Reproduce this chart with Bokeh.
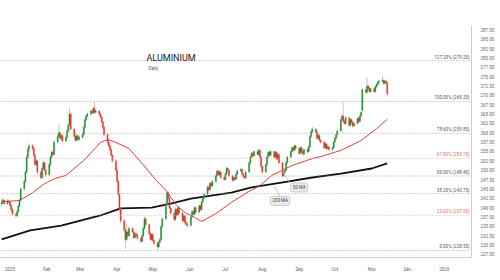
import numpy as np
import pandas as pd
from bokeh.plotting import figure
from bokeh.models import Range1d, FixedTicker, Label, Span, ColumnDataSource, NumeralTickFormatter
from bokeh.embed import file_html
from bokeh.resources import INLINE

# ---------------- data ----------------
start_date = "2024-12-25"   # first trading day shown (business days follow)

opens = [
    241.0, 241.5,
    242.0, 241.0, 241.8, 241.6, 240.6,
    239.5, 238.3, 237.8, 239.0, 240.5,
    242.0, 245.0, 247.0, 249.5, 253.5,
    255.5, 256.5, 255.8, 254.0, 251.5,
    252.5, 249.5, 248.0, 250.5, 252.0,
    250.0, 248.8, 251.5, 253.5, 254.8,
    254.2, 257.5, 259.0, 260.0, 258.5,
    259.3, 257.8, 258.8, 260.5, 262.0,
    265.0, 261.0, 259.0, 258.0, 259.2,
    258.2, 258.8, 259.5, 261.5, 263.5,
    264.5, 265.0, 265.8, 265.3, 266.5,
    265.5, 265.8, 265.0, 264.2, 263.0,
    261.5, 259.5, 257.5, 256.5, 255.5,
    254.0, 252.5, 250.0, 247.0, 243.5,
    239.5, 236.5, 234.0, 231.5, 233.5,
    232.5, 234.5, 233.5, 232.0, 233.0,
    232.8, 231.8, 231.0, 232.5, 234.5,
    237.0, 235.5, 233.0, 231.5, 232.8,
    231.2, 230.5, 229.5, 230.8, 231.5,
    235.0, 237.0, 241.0, 244.0, 242.5,
    240.0, 238.5, 236.8, 239.5, 238.0,
    240.0, 238.5, 236.5, 237.8, 236.0,
    235.5, 235.2, 237.5, 239.0, 238.2,
    240.0, 238.8, 240.5, 239.5, 241.5,
    242.5, 243.5, 245.5, 244.8, 246.5,
    245.8, 247.0, 248.5, 249.8, 248.8,
    249.5, 248.0, 247.5, 249.0, 250.5,
    250.0, 248.5, 247.3, 248.0, 247.6,
    249.0, 249.8, 250.2, 249.0, 248.3,
    248.0, 249.5, 252.0, 253.5, 254.5,
    253.8, 255.0, 254.2, 255.3, 253.5,
    251.0, 249.5, 251.5, 253.5, 254.8,
    254.0, 255.0, 253.5, 254.8, 253.0,
    254.2, 252.0, 248.5, 249.5, 250.0,
    252.0, 253.5, 255.0, 256.0, 255.3,
    256.5, 255.8, 254.5, 256.0, 255.0,
    254.3, 255.5, 255.0, 256.2, 259.0,
    260.3, 261.0, 260.2, 258.5, 259.3,
    258.0, 257.5, 256.0, 257.0, 255.8,
    256.2, 255.5, 256.0, 257.5, 258.5,
    259.5, 260.5, 263.5, 264.5, 263.0,
    262.5, 264.0, 262.0, 263.5, 262.8,
    261.8, 262.5, 263.8, 263.0, 264.5,
    266.0, 271.5, 270.8, 272.5, 271.8,
    271.0, 271.8, 271.0, 272.3, 272.8,
    273.5, 273.8, 274.0, 273.2, 273.8,
    273.3,
]
highs = [
    242.3, 242.6,
    242.5, 242.3, 242.2, 241.9, 240.9,
    239.8, 238.7, 239.4, 240.9, 242.4,
    245.4, 247.4, 249.9, 254.0, 256.2,
    257.3, 257.0, 256.1, 254.4, 253.0,
    252.8, 249.9, 251.0, 252.6, 252.3,
    250.3, 251.9, 253.9, 255.3, 255.2,
    258.0, 259.6, 262.2, 260.4, 259.8,
    259.6, 259.3, 261.0, 262.5, 266.8,
    265.3, 261.4, 259.5, 259.7, 259.5,
    259.3, 260.0, 262.0, 264.0, 265.0,
    265.6, 266.3, 266.2, 267.0, 268.35,
    266.3, 266.1, 265.4, 264.5, 263.3,
    261.8, 259.9, 258.0, 256.9, 255.9,
    254.3, 252.9, 250.4, 247.4, 243.9,
    240.0, 237.0, 234.5, 235.5, 234.0,
    235.0, 234.9, 233.9, 233.4, 233.6,
    233.1, 232.2, 232.9, 234.9, 237.6,
    237.3, 235.8, 233.4, 233.2, 233.1,
    231.5, 230.9, 231.2, 232.0, 235.3,
    237.4, 241.4, 244.6, 244.4, 242.9,
    240.3, 238.8, 240.0, 239.8, 240.4,
    240.3, 238.8, 238.2, 238.1, 236.5,
    236.0, 237.9, 239.4, 239.3, 240.4,
    240.3, 240.9, 240.8, 241.9, 242.9,
    243.9, 245.9, 245.8, 246.9, 246.8,
    247.4, 248.9, 250.2, 250.1, 249.9,
    249.8, 248.4, 249.4, 250.9, 250.8,
    250.3, 248.8, 248.4, 248.3, 249.4,
    250.2, 250.6, 250.5, 249.3, 248.6,
    249.9, 252.4, 253.9, 254.9, 254.8,
    255.4, 255.3, 255.7, 255.6, 253.8,
    251.3, 251.9, 253.9, 255.2, 255.1,
    255.4, 255.3, 255.2, 255.1, 254.6,
    254.5, 252.3, 249.9, 250.4, 252.4,
    253.9, 255.4, 256.4, 256.3, 256.9,
    256.8, 256.1, 256.4, 256.3, 255.3,
    255.9, 255.8, 256.6, 259.4, 260.7,
    261.6, 261.3, 260.5, 259.7, 259.6,
    258.3, 257.8, 257.4, 257.3, 256.6,
    256.5, 256.4, 257.9, 258.9, 259.9,
    260.9, 263.9, 264.9, 268.1, 263.4,
    264.4, 264.3, 263.9, 263.8, 263.1,
    262.9, 264.2, 264.1, 264.9, 265.9,
    271.9, 271.8, 274.8, 272.8, 272.1,
    272.2, 272.1, 272.7, 273.2, 273.9,
    274.2, 275.3, 274.3, 274.2, 274.1,
    273.6,
]
lows = [
    240.6, 241.0,
    240.6, 240.7, 241.3, 240.2, 238.9,
    237.8, 237.2, 237.5, 238.7, 240.2,
    241.8, 244.6, 246.6, 249.2, 253.0,
    254.9, 255.2, 253.6, 251.0, 251.1,
    249.0, 247.5, 247.8, 250.1, 249.6,
    248.3, 248.5, 251.2, 253.2, 253.7,
    254.0, 257.2, 258.7, 258.0, 258.1,
    257.4, 257.5, 258.5, 260.2, 261.8,
    260.6, 258.6, 257.5, 257.7, 257.8,
    257.9, 258.4, 259.2, 261.2, 263.1,
    264.0, 264.6, 264.8, 265.0, 265.1,
    265.1, 264.6, 263.8, 262.6, 261.0,
    259.0, 257.0, 256.0, 255.0, 253.6,
    252.0, 249.6, 246.5, 243.0, 239.0,
    235.8, 233.5, 228.9, 231.0, 231.8,
    232.2, 233.0, 231.6, 231.7, 232.3,
    231.4, 230.6, 230.8, 232.2, 234.2,
    235.0, 232.6, 231.0, 231.2, 230.8,
    230.0, 228.55, 229.2, 230.4, 231.2,
    234.6, 236.7, 240.7, 242.0, 239.6,
    238.0, 236.2, 236.5, 237.6, 237.7,
    238.1, 236.0, 236.2, 235.6, 235.0,
    234.6, 235.0, 237.2, 237.8, 238.0,
    238.4, 238.5, 239.1, 239.2, 241.2,
    242.2, 243.2, 244.4, 244.5, 245.4,
    245.5, 246.7, 248.2, 248.4, 248.5,
    247.6, 247.1, 247.2, 248.7, 249.6,
    248.1, 246.9, 247.0, 247.2, 247.3,
    248.7, 249.5, 248.6, 247.9, 247.6,
    247.7, 249.2, 251.7, 253.2, 253.4,
    253.5, 253.8, 253.9, 253.1, 250.6,
    249.1, 249.2, 251.2, 253.2, 253.6,
    253.7, 253.1, 253.2, 252.6, 252.7,
    251.6, 247.9, 248.2, 249.0, 249.7,
    251.7, 253.2, 254.7, 254.9, 255.0,
    255.4, 254.1, 254.2, 254.6, 253.9,
    254.0, 254.6, 254.7, 255.9, 258.7,
    260.0, 259.8, 258.1, 258.2, 257.6,
    257.1, 255.6, 255.7, 255.4, 255.5,
    255.1, 255.2, 255.7, 257.2, 258.2,
    259.2, 260.2, 263.2, 262.7, 262.1,
    262.2, 261.6, 261.7, 262.4, 261.4,
    261.5, 262.2, 262.6, 262.7, 264.2,
    265.7, 270.3, 270.5, 271.3, 270.6,
    270.7, 270.6, 270.7, 272.0, 272.5,
    273.2, 273.5, 272.8, 272.9, 272.9,
    269.8,
]
closes = [
    241.5, 242.0,
    241.0, 241.8, 241.6, 240.6, 239.5,
    238.3, 237.8, 239.0, 240.5, 242.0,
    245.0, 247.0, 249.5, 253.5, 255.5,
    256.5, 255.8, 254.0, 251.5, 252.5,
    249.5, 248.0, 250.5, 252.0, 250.0,
    248.8, 251.5, 253.5, 254.8, 254.2,
    257.5, 259.0, 260.0, 258.5, 259.3,
    257.8, 258.8, 260.5, 262.0, 265.0,
    261.0, 259.0, 258.0, 259.2, 258.2,
    258.8, 259.5, 261.5, 263.5, 264.5,
    265.0, 265.8, 265.3, 266.5, 265.5,
    265.8, 265.0, 264.2, 263.0, 261.5,
    259.5, 257.5, 256.5, 255.5, 254.0,
    252.5, 250.0, 247.0, 243.5, 239.5,
    236.5, 234.0, 231.5, 233.5, 232.5,
    234.5, 233.5, 232.0, 233.0, 232.8,
    231.8, 231.0, 232.5, 234.5, 237.0,
    235.5, 233.0, 231.5, 232.8, 231.2,
    230.5, 229.5, 230.8, 231.5, 235.0,
    237.0, 241.0, 244.0, 242.5, 240.0,
    238.5, 236.8, 239.5, 238.0, 240.0,
    238.5, 236.5, 237.8, 236.0, 235.5,
    235.2, 237.5, 239.0, 238.2, 240.0,
    238.8, 240.5, 239.5, 241.5, 242.5,
    243.5, 245.5, 244.8, 246.5, 245.8,
    247.0, 248.5, 249.8, 248.8, 249.5,
    248.0, 247.5, 249.0, 250.5, 250.0,
    248.5, 247.3, 248.0, 247.6, 249.0,
    249.8, 250.2, 249.0, 248.3, 248.0,
    249.5, 252.0, 253.5, 254.5, 253.8,
    255.0, 254.2, 255.3, 253.5, 251.0,
    249.5, 251.5, 253.5, 254.8, 254.0,
    255.0, 253.5, 254.8, 253.0, 254.2,
    252.0, 248.5, 249.5, 250.0, 252.0,
    253.5, 255.0, 256.0, 255.3, 256.5,
    255.8, 254.5, 256.0, 255.0, 254.3,
    255.5, 255.0, 256.2, 259.0, 260.3,
    261.0, 260.2, 258.5, 259.3, 258.0,
    257.5, 256.0, 257.0, 255.8, 256.2,
    255.5, 256.0, 257.5, 258.5, 259.5,
    260.5, 263.5, 264.5, 263.0, 262.5,
    264.0, 262.0, 263.5, 262.8, 261.8,
    262.5, 263.8, 263.0, 264.5, 265.5,
    271.5, 270.8, 272.5, 271.8, 271.0,
    271.8, 271.0, 272.3, 272.8, 273.5,
    273.8, 274.0, 273.2, 273.8, 273.3,
    270.4,
]

ma50_dates = ["2024-12-25", "2025-01-09", "2025-01-20", "2025-01-30", "2025-02-08",
              "2025-02-17", "2025-03-04", "2025-03-18", "2025-03-24", "2025-03-31",
              "2025-04-11", "2025-04-22", "2025-05-04", "2025-05-12", "2025-05-21",
              "2025-05-28", "2025-06-05", "2025-06-11", "2025-06-23", "2025-07-06",
              "2025-07-19", "2025-07-30", "2025-08-09", "2025-08-26", "2025-09-12",
              "2025-09-22", "2025-10-06", "2025-10-23", "2025-11-05", "2025-11-14"]
ma50_values = [241.6, 241.9, 244.0, 246.4, 247.8,
               248.6, 252.6, 257.4, 258.2, 257.4,
               255.8, 251.8, 247.25, 244.6, 240.6,
               238.7, 237.4, 236.3, 238.4, 241.4,
               244.0, 245.9, 248.6, 251.25, 253.1,
               253.9, 255.3, 257.9, 261.1, 263.6]

ma200_dates = ["2024-12-25", "2025-01-18", "2025-02-13", "2025-03-18", "2025-04-04",
               "2025-04-30", "2025-05-16", "2025-06-02", "2025-06-19", "2025-07-06",
               "2025-07-23", "2025-08-17", "2025-09-12", "2025-10-06", "2025-11-01",
               "2025-11-14"]
ma200_values = [231.5, 233.9, 235.2, 237.9, 239.8,
                240.0, 241.1, 242.4, 243.2, 244.0,
                245.4, 246.7, 248.05, 249.1, 250.45,
                251.8]

fib_pcts = [0.0, 23.6, 38.2, 50.0, 61.8, 78.6, 100.0, 127.2]
fib_prices = [228.55, 237.95, 243.75, 248.45, 253.15, 259.85, 268.35, 279.25]
fib_highlight = [False, True, False, False, True, False, False, False]

month_starts = ["2025-01-01", "2025-02-01", "2025-03-01", "2025-04-01", "2025-05-01",
                "2025-06-01", "2025-07-01", "2025-08-01", "2025-09-01", "2025-10-01",
                "2025-11-01", "2025-12-01", "2026-01-01"]
month_labels = ["2025", "Feb", "Mar", "Apr", "May", "Jun", "Jul", "Aug", "Sep", "Oct",
                "Nov", "Dec", "2026"]
price_ticks = [227.5, 230.0, 232.5, 235.0, 237.5, 240.0, 242.5, 245.0, 247.5, 250.0,
               252.5, 255.0, 257.5, 260.0, 262.5, 265.0, 267.5, 270.0, 272.5, 275.0,
               277.5, 280.0, 282.5, 285.0, 287.5]

title_text = "ALUMINIUM"
subtitle_text = "Daily"
ma_notes = ["50 MA", "200 MA"]
ma_note_dates = ["2025-09-01", "2025-08-16"]
ma_note_prices = [245.4, 241.8]
ma_leader_from_dates = ["2025-08-17", "2025-08-11"]
ma_leader_from_prices = [250.0, 245.9]
ma_leader_to_dates = ["2025-08-24", "2025-08-16"]
ma_leader_to_prices = [246.7, 242.8]

# ---------------- helpers ----------------
base = pd.Timestamp("2025-01-01")


def to_days(ds):
    return ((pd.to_datetime(ds) - base) / pd.Timedelta(days=1)).to_numpy(dtype=float)


dates = pd.bdate_range(start_date, periods=len(closes))
x = to_days(dates)
o = np.array(opens)
h = np.array(highs)
l = np.array(lows)
c = np.array(closes)
up = c >= o

GREEN = "#1f8a2e"
RED = "#e2322b"
body_col = [GREEN if u else RED for u in up]
wick_col = ["#9cc79f" if u else "#f0a3a0" for u in up]

src = ColumnDataSource(dict(x=x, o=o, h=h, l=l, c=c,
                            top=np.maximum(o, c), bot=np.minimum(o, c),
                            bc=body_col, wc=wick_col))

p = figure(width=500, height=280, output_backend="svg", toolbar_location=None,
           x_range=Range1d(-7.98, 387.8), y_range=Range1d(226.68, 288.65),
           y_axis_location="right",
           min_border_left=0, min_border_top=25, min_border_bottom=23, min_border_right=29)
p.outline_line_color = None
p.xgrid.visible = False
p.ygrid.visible = False
p.background_fill_color = "white"
p.border_fill_color = "white"

FONT = "Roboto"

# right price axis
p.yaxis.ticker = FixedTicker(ticks=price_ticks)
p.yaxis.formatter = NumeralTickFormatter(format="0.00")
p.yaxis.major_label_text_font_size = "4.5px"
p.yaxis.major_label_text_font = FONT
p.yaxis.major_label_text_color = "#666666"
p.yaxis.axis_line_color = "#cfcfcf"
p.yaxis.major_tick_line_color = None
p.yaxis.minor_tick_line_color = None
p.yaxis.major_label_standoff = 3

# bottom time axis
mdays = [int(v) for v in to_days(month_starts)]
p.xaxis.ticker = FixedTicker(ticks=mdays)
p.xaxis.major_label_overrides = {d: lab for d, lab in zip(mdays, month_labels)}
p.xaxis.major_label_text_font_size = "4.5px"
p.xaxis.major_label_text_font = FONT
p.xaxis.major_label_text_color = "#666666"
p.xaxis.axis_line_color = "#cfcfcf"
p.xaxis.major_tick_line_color = None
p.xaxis.minor_tick_line_color = None
p.xaxis.major_label_standoff = 3

# fibonacci levels
for pct, price, hl in zip(fib_pcts, fib_prices, fib_highlight):
    p.add_layout(Span(location=price, dimension="width",
                      line_color="#e8a5a5" if hl else "#9a9a9a",
                      line_dash="1 2", line_width=0.9))
    p.add_layout(Label(x=469, x_units="screen", y=price, y_units="data",
                       text=f"{pct:.2f}% ({price:.2f})", text_align="right",
                       text_baseline="bottom", y_offset=1,
                       text_font_size="4.5px", text_font=FONT,
                       text_color="#e06a66" if hl else "#555555"))

# moving averages
p.line(to_days(ma200_dates), ma200_values, line_color="#111111", line_width=1.8)
p.line(to_days(ma50_dates), ma50_values, line_color="#e0403a", line_width=1.0)

# candles
p.segment(x0="x", y0="h", x1="x", y1="l", line_color="wc", line_width=0.8, source=src)
p.vbar(x="x", width=0.9, top="top", bottom="bot", fill_color="bc", line_color="bc",
       line_width=0.4, source=src)

# MA annotations
p.segment(to_days(ma_leader_from_dates), ma_leader_from_prices,
          to_days(ma_leader_to_dates), ma_leader_to_prices,
          line_color="#b5b5b5", line_width=0.8)
for txt, d, pr in zip(ma_notes, to_days(ma_note_dates), ma_note_prices):
    p.add_layout(Label(x=d, y=pr, text=txt, text_align="center", text_baseline="middle",
                       text_font_size="4.5px", text_font=FONT, text_color="#444444",
                       background_fill_color="#ececec", border_line_color="#cccccc",
                       padding=2, border_radius=2))

# title
p.add_layout(Label(x=146, y=200, x_units="screen", y_units="screen", text=title_text,
                   text_baseline="middle", text_font_size="9px", text_font=FONT,
                   text_color="#222222"))
p.add_layout(Label(x=148, y=189, x_units="screen", y_units="screen", text=subtitle_text,
                   text_baseline="middle", text_font_size="4.5px", text_font=FONT,
                   text_color="#555555"))

# price boxes on the axis
boxes = [(closes[-1], RED), (ma50_values[-1], RED), (ma200_values[-1], "#111111")]
for val, col in boxes:
    p.add_layout(Label(x=473, x_units="screen", y=val, y_units="data",
                       text=f"{val:.2f}", text_align="left", text_baseline="middle",
                       text_font_size="4.5px", text_font=FONT, text_color="white",
                       background_fill_color=col, padding=1))

open("out.html", "w").write(file_html(p, INLINE))
